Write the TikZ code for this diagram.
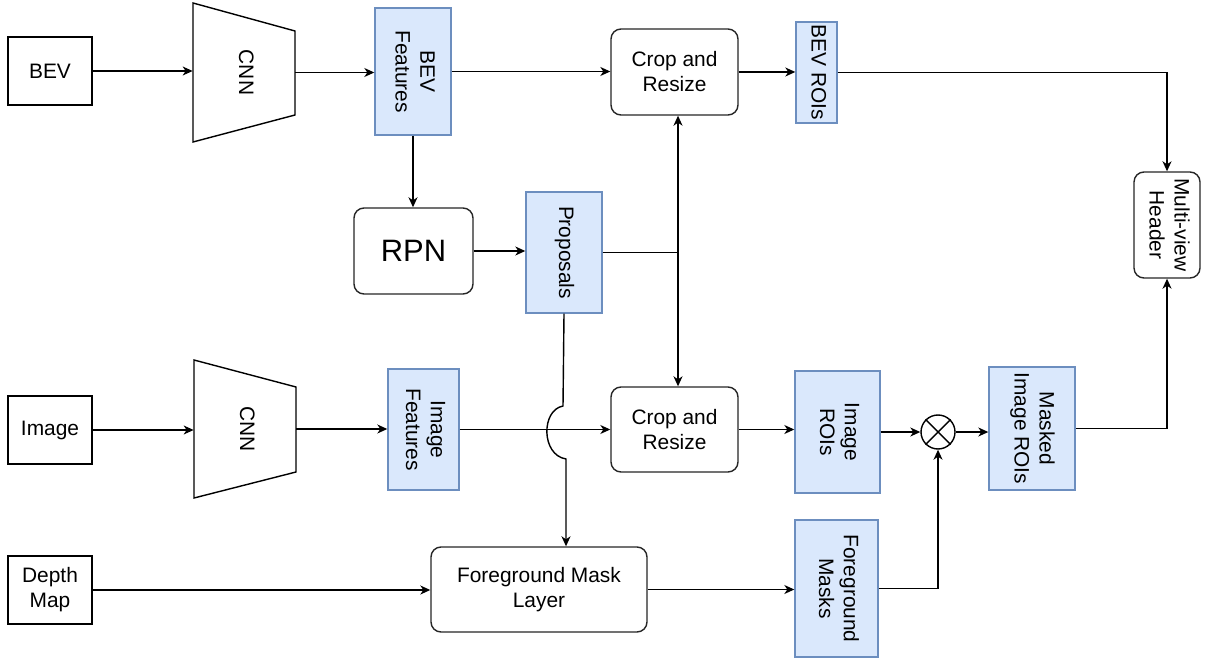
\documentclass[tikz,border=0pt]{standalone}
\usepackage{fontspec}
\setmainfont{Liberation Sans}
\usetikzlibrary{arrows.meta,calc}
\definecolor{featfill}{HTML}{DAE8FC}
\definecolor{featline}{HTML}{6C8EBF}
\newcommand{\vtext}[1]{\rotatebox{-90}{\begin{tabular}{@{}c@{}}#1\end{tabular}}}
\begin{document}
\begin{tikzpicture}[x=0.02cm,y=-0.02cm,
  every node/.style={font=\fontsize{11.9}{14.2}\selectfont},
  sz/.style 2 args={minimum width=#1*0.02cm, minimum height=#2*0.02cm, inner sep=0pt},
  plainbox/.style={draw=black, line width=0.8pt, fill=white, align=center},
  roundbox/.style={draw=black!85, line width=0.8pt, rounded corners=0.2cm, fill=white, align=center},
  featbox/.style={draw=featline, line width=0.8pt, fill=featfill, align=center},
  wire/.style={line width=0.8pt, draw=black},
  arr/.style={wire, -{Stealth[length=0.2cm, width=0.18cm, inset=0.06cm]}},
  dblarr/.style={wire, {Stealth[length=0.2cm, width=0.18cm, inset=0.06cm]}-{Stealth[length=0.2cm, width=0.18cm, inset=0.06cm]}},
  trap/.style={draw=black, line width=0.8pt, fill=white}
]
\useasboundingbox (0,0) rectangle (1206,658);

% ---- top branch: BEV ----
\node[plainbox, sz={84}{68}] (bev) at (50,71) {BEV};
\node[sz={102}{139}] (cnn1) at (244,72.5) {};
\draw[trap] (193,3) -- (295,31) -- (295,115) -- (193,142) -- cycle;
\node at (cnn1) {\vtext{CNN}};
\node[featbox, sz={76}{127}] (bevf) at (413,71.5) {\vtext{BEV\\Features}};
\node[roundbox, sz={127}{86}] (crop1) at (674.5,72) {Crop and\\Resize};
\node[featbox, sz={41}{101}] (bevroi) at (816.5,72.5) {\vtext{BEV ROIs}};
\node[roundbox, sz={66}{106}] (mvh) at (1167,225) {\vtext{Multi-view\\Header}};

% ---- region proposal ----
\node[roundbox, sz={119}{86}, font=\fontsize{17.6}{20}\selectfont] (rpn) at (413.5,251) {RPN};
\node[featbox, sz={76}{121}] (prop) at (564,252.5) {\vtext{Proposals}};

% ---- middle branch: image ----
\node[plainbox, sz={84}{68}] (img) at (50,430) {Image};
\node[sz={102}{138}] (cnn2) at (245,429) {};
\draw[trap] (194,360) -- (296,387) -- (296,472) -- (194,498) -- cycle;
\node at (cnn2) {\vtext{CNN}};
\node[featbox, sz={71}{121}] (imgf) at (423.5,429.5) {\vtext{Image\\Features}};
\node[roundbox, sz={127}{85}] (crop2) at (674.5,429.5) {Crop and\\Resize};
\node[featbox, sz={85}{122}] (imgroi) at (837.5,432) {\vtext{Image\\ROIs}};
\node[draw=black, line width=0.8pt, circle, minimum size=34*0.02cm, inner sep=0pt] (mul) at (938,432) {};
\draw[wire] (mul.north west) -- (mul.south east) (mul.north east) -- (mul.south west);
\node[featbox, sz={86}{123}] (mask) at (1032,428.5) {\vtext{Masked\\Image ROIs}};

% ---- bottom branch: depth ----
\node[plainbox, sz={84}{68}] (depth) at (50,590) {Depth\\Map};
\node[roundbox, sz={216}{85}] (fml) at (539,589.5) {Foreground Mask\\Layer};
\node[featbox, sz={83}{137}] (fgm) at (836.5,588.5) {\vtext{Foreground\\Masks}};

% ---- connectors: top ----
\draw[arr] (bev.east) -- (bev.east -| cnn1.west);
\draw[arr] (cnn1.east) -- (cnn1.east -| bevf.west);
\draw[arr] (bevf.east) -- (bevf.east -| crop1.west);
\draw[arr] (crop1.east) -- (crop1.east -| bevroi.west);
\draw[arr] (bevroi.east) -| (mvh.north);
\draw[arr] (bevf.south) -- (bevf.south |- rpn.north);
\draw[arr] (rpn.east) -- (rpn.east -| prop.west);

% proposals feed both crop stages
\coordinate (junc) at (678,252);
\draw[wire] (prop.east) -- (prop.east -| junc);
\draw[dblarr] (junc |- crop1.south) -- (junc |- crop2.north);

% proposals down to the mask layer, hopping over the image feature line
\coordinate (hoptop) at (563,406);
\coordinate (hopbot) at (566,459);
\draw[arr] (prop.south) -- (hoptop)
  .. controls (541,410) and (541,455) .. (hopbot)
  -- (hopbot |- fml.north);

% ---- connectors: middle ----
\draw[arr] (img.east) -- (img.east -| cnn2.west);
\draw[arr] (cnn2.east) -- (cnn2.east -| imgf.west);
\draw[arr] (imgf.east) -- (imgf.east -| crop2.west);
\draw[arr] (crop2.east) -- (crop2.east -| imgroi.west);
\draw[arr] (imgroi.east |- mul.west) -- (mul.west);
\draw[arr] (mul.east) -- (mul.east -| mask.west);
\draw[arr] (mask.east) -| (mvh.south);

% ---- connectors: bottom ----
\draw[arr] (depth.east) -- (depth.east -| fml.west);
\draw[arr] (fml.east) -- (fml.east -| fgm.west);
\draw[arr] (fgm.east) -| (mul.south);
\end{tikzpicture}
\end{document}
